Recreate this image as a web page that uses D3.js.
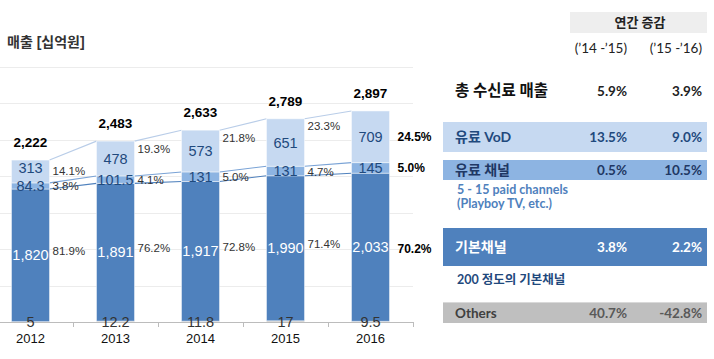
<!DOCTYPE html>
<html><head><meta charset="utf-8">
<script src="https://cdn.jsdelivr.net/npm/d3@7"></script>
<style>
body{margin:0;background:#fff;}
svg{display:block;}
</style></head>
<body>
<svg id="c" width="714" height="359"></svg>
<script>
const years = ["2012","2013","2014","2015","2016"];
const others = [5, 12.2, 11.8, 17, 9.5];
const basic = [1820, 1891, 1917, 1990, 2033];
const paid = [84.3, 101.5, 131, 131, 145];
const vod = [313, 478, 573, 651, 709];
const totals = ["2,222", "2,483", "2,633", "2,789", "2,897"];
const vodPct = ["14.1%", "19.3%", "21.8%", "23.3%", "24.5%"];
const paidPct = ["3.8%", "4.1%", "5.0%", "4.7%", "5.0%"];
const basicPct = ["81.9%", "76.2%", "72.8%", "71.4%", "70.2%"];
const yTicks = [0, 500, 1000, 1500, 2000, 2500, 3000, 3500];

const tableHeader = "연간 증감";
const periods = ["(\u201914 -\u201915)", "(\u201915 -\u201916)"];
const rowNames = ["총 수신료 매출", "유료 VoD", "유료 채널", "기본채널", "Others"];
const growth1415 = ["5.9%", "13.5%", "0.5%", "3.8%", "40.7%"];
const growth1516 = ["3.9%", "9.0%", "10.5%", "2.2%", "-42.8%"];
const notePaid = ["5 - 15 paid channels", "(Playboy TV, etc.)"];
const noteBasic = "200 정도의 기본채널";

const svg = d3.select("#c");
const FONT = "'Liberation Sans', Arial, 'Noto Sans CJK KR', sans-serif";
const TFONT = "Lato, 'Noto Sans CJK KR', sans-serif";
const C = {basic:"#4f81bd", paid:"#8db4e2", vod:"#c6d9f1", others:"#bfbfbf"};

const x = d3.scaleBand().domain(years).range([-12, 413]).padding(0);
const y = d3.scaleLinear().domain([0, 3500]).range([322, 67]);
const bw = 38;
const bx = d => x(d) + x.bandwidth()/2 - bw/2;

// title
svg.append("text").attr("x", 7).attr("y", 47).attr("font-family", FONT)
  .attr("font-size", 14).attr("font-weight", "bold").attr("fill", "#333").text("매출 [십억원]");

// gridlines
svg.append("g").selectAll("line").data(yTicks.slice(1)).join("line")
  .attr("x1", 0).attr("x2", 413).attr("y1", d => Math.round(y(d))+0.5).attr("y2", d => Math.round(y(d))+0.5)
  .attr("stroke", "#ececec").attr("stroke-width", 1);

// stacks
const data = years.map((yr, i) => ({yr, i, others: others[i], basic: basic[i], paid: paid[i], vod: vod[i]}));
const keys = ["others", "basic", "paid", "vod"];
const stack = d3.stack().keys(keys)(data);

// series lines
const lineColor = {basic:"#4f81bd", paid:"#7aa3d6", vod:"#b9cde8"};
["basic","paid","vod"].forEach(k => {
  const s = stack.find(t => t.key === k);
  const segs = d3.range(years.length - 1).map(i => [[bx(years[i]) + bw, y(s[i][1])], [bx(years[i+1]), y(s[i+1][1])]]);
  svg.append("g").selectAll("line").data(segs).join("line")
    .attr("x1", d => d[0][0]).attr("y1", d => d[0][1]).attr("x2", d => d[1][0]).attr("y2", d => d[1][1])
    .attr("stroke", lineColor[k]).attr("stroke-width", 1.1);
});

stack.forEach(s => {
  svg.append("g").selectAll("rect").data(s).join("rect")
    .attr("x", d => bx(d.data.yr)).attr("width", bw)
    .attr("y", d => y(d[1])).attr("height", d => Math.max(0, y(d[0]) - y(d[1])))
    .attr("fill", C[s.key]).attr("stroke", "rgba(255,255,255,0.45)").attr("stroke-width", 1);
});

// axis
const ax = svg.append("g").attr("transform", "translate(0,322)")
  .call(d3.axisBottom(x).tickSize(0).tickFormat(d => d));
ax.select(".domain").remove();
ax.selectAll("text").attr("font-family", FONT).attr("font-size", 13).attr("fill", "#111").attr("dy", null).attr("y", 21);
svg.append("line").attr("x1", 0).attr("x2", 413).attr("y1", 322.5).attr("y2", 322.5).attr("stroke", "#bcbcbc");
svg.append("g").selectAll("line").data(years).join("line")
  .attr("x1", d => x(d) + x.bandwidth() + 0.5).attr("x2", d => x(d) + x.bandwidth() + 0.5)
  .attr("y1", 322).attr("y2", 327).attr("stroke", "#bcbcbc");

// in-bar labels
const sOf = k => stack.find(t => t.key === k);
const mid = d => (y(d[0]) + y(d[1]))/2;
const cx = yr => x(yr) + x.bandwidth()/2;
function inLabels(k, arr, color, fmt, shift){
  svg.append("g").selectAll("text").data(sOf(k)).join("text")
    .attr("x", d => cx(d.data.yr)).attr("y", (d, i) => (k === "others" ? y(0) : mid(d)) + 5 + (shift ? shift(i) : 0))
    .attr("text-anchor", "middle").attr("font-family", FONT).attr("font-size", 14.5)
    .attr("fill", color).text((d, i) => fmt(arr[i]));
}
const f = d3.format(",");
inLabels("vod", vod, "#1f497d", f, i => i === 0 ? -3.5 : 0);
inLabels("paid", paid, "#1f497d", d => String(d), i => 0);
inLabels("basic", basic, "#ffffff", f);
inLabels("others", others, "#333333", d => String(d));

// totals
svg.append("g").selectAll("text").data(sOf("vod")).join("text")
  .attr("x", d => cx(d.data.yr)).attr("y", d => y(d[1]) - 13)
  .attr("text-anchor", "middle").attr("font-family", FONT).attr("font-size", 13.5).attr("font-weight", "bold")
  .attr("fill", "#000").text((d, i) => totals[i]);

// percent labels
function pctLabels(k, arr, yfn){
  svg.append("g").selectAll("text").data(sOf(k)).join("text")
    .attr("x", (d, i) => bx(d.data.yr) + bw + (i === 4 ? 8 : 3))
    .attr("y", (d, i) => yfn(d, i) + 4.5)
    .attr("font-family", FONT).attr("font-size", (d, i) => i === 4 ? 12 : 11.5)
    .attr("font-weight", (d, i) => i === 4 ? "bold" : "normal")
    .attr("fill", (d, i) => i === 4 ? "#000" : "#333").text((d, i) => arr[i]);
}
pctLabels("vod", vodPct, (d, i) => i === 4 ? mid(d) : (i === 0 ? mid(d) - 1 : y(d[1]) + 7));
pctLabels("paid", paidPct, (d, i) => (i === 0 ? mid(d) : mid(d)));
pctLabels("basic", basicPct, (d, i) => i === 4 ? mid(d) + 1 : mid(d) - 5);

// right table
const T = svg.append("g");
T.append("rect").attr("x", 570).attr("y", 12).attr("width", 137).attr("height", 21).attr("fill", "#eeeeee");
T.append("text").attr("x", 640).attr("y", 27).attr("text-anchor", "middle").attr("font-family", TFONT)
  .attr("font-size", 13).attr("font-weight", "bold").attr("fill", "#222").text(tableHeader);
const colR = [627, 702];
periods.forEach((p, j) => T.append("text").attr("x", colR[j]).attr("y", 53).attr("text-anchor", "end")
  .attr("font-family", TFONT).attr("font-size", 13.5).attr("fill", "#222").text(p));

const rows = [
  {bg: null, y0: 80, h: 22, tc: "#111", nc: "#222", fs: 15.5},
  {bg: C.vod, y0: 122, h: 30, tc: "#1f497d", nc: "#1f497d", fs: 14},
  {bg: C.paid, y0: 160, h: 20, tc: "#1f3864", nc: "#1f3864", fs: 14},
  {bg: C.basic, y0: 228, h: 38, tc: "#ffffff", nc: "#ffffff", fs: 14},
  {bg: C.others, y0: 302, h: 21, tc: "#404040", nc: "#595959", fs: 13.5}
];
rows.forEach((r, i) => {
  if (r.bg) T.append("rect").attr("x", 443).attr("y", r.y0).attr("width", 264).attr("height", r.h).attr("fill", r.bg);
  const by = r.y0 + r.h/2 + 5;
  T.append("text").attr("x", 455).attr("y", by).attr("font-family", TFONT).attr("font-size", r.fs)
    .attr("font-weight", "bold").attr("fill", r.tc).text(rowNames[i]);
  [growth1415[i], growth1516[i]].forEach((v, j) => T.append("text").attr("x", colR[j]).attr("y", by)
    .attr("text-anchor", "end").attr("font-family", TFONT).attr("font-size", 13.5).attr("font-weight", "bold")
    .attr("fill", r.nc).text(v));
});
T.append("line").attr("x1", 443).attr("x2", 707).attr("y1", 302.5).attr("y2", 302.5).attr("stroke", "#d9d9d9");
notePaid.forEach((t, k) => T.append("text").attr("x", 457).attr("y", 194 + k*14).attr("font-family", TFONT)
  .attr("font-size", 12.5).attr("font-weight", "bold").attr("fill", "#4f81bd").text(t));
T.append("text").attr("x", 457).attr("y", 284).attr("font-family", TFONT)
  .attr("font-size", 12.5).attr("font-weight", "bold").attr("fill", "#1f497d").text(noteBasic);
</script>
</body></html>
